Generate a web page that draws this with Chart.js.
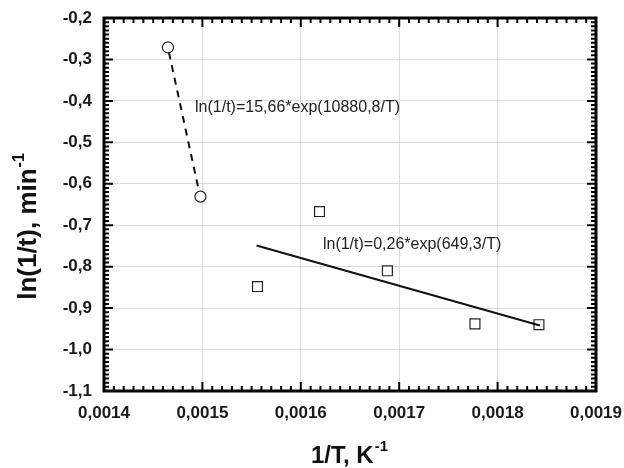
<!DOCTYPE html>
<html>
<head>
<meta charset="utf-8">
<script src="https://cdn.jsdelivr.net/npm/chart.js@4.4.1/dist/chart.umd.min.js"></script>
<style>
  html, body { margin: 0; background: #fff; }
  #wrap { width: 624px; height: 468px; }
</style>
</head>
<body>
<div id="wrap"><canvas id="chart"></canvas></div>
<script>
// measured points (1/T, ln(1/t))
const circleX = [0.001465, 0.001498];
const circleY = [-0.271, -0.631];
const squareX = [0.001556, 0.001619, 0.001688, 0.001777, 0.001842];
const squareY = [-0.848, -0.667, -0.810, -0.938, -0.940];

// fitted lines
const dashFitX = [0.001466, 0.001496];
const dashFitY = [-0.283, -0.612];
const solidFitX = [0.001555, 0.001843];
const solidFitY = [-0.749, -0.942];

// axes
const xMin = 0.0014, xMax = 0.0019, xStep = 0.0001, xMinor = 0.00001;
const yMin = -1.1, yMax = -0.2, yStep = 0.1, yMinor = 0.01;

// equation labels, anchored in data units
const eqTexts = ['ln(1/t)=15,66*exp(10880,8/T)', 'ln(1/t)=0,26*exp(649,3/T)'];
const eqX = [0.0014925, 0.0016225];
const eqY = [-0.416, -0.747];

const toPts = (xs, ys) => xs.map((v, i) => ({ x: v, y: ys[i] }));
const FONT = "'Liberation Sans', Arial, sans-serif";

// inward ticks on all four sides, frame, axis titles
const frame = {
  id: 'frame',
  afterDatasetsDraw(chart) {
    const { ctx, scales: { x, y } } = chart;
    ctx.save();
    ctx.fillStyle = '#222';
    ctx.font = '16px ' + FONT;
    ctx.textBaseline = 'middle';
    ctx.textAlign = 'left';
    eqTexts.forEach((t, i) => {
      ctx.fillText(t, x.getPixelForValue(eqX[i]), y.getPixelForValue(eqY[i]));
    });
    ctx.restore();
  },
  afterDraw(chart) {
    const { ctx, chartArea: a, scales: { x, y } } = chart;
    ctx.save();
    ctx.strokeStyle = '#000';
    ctx.lineWidth = 2;
    ctx.beginPath();
    const nx = Math.round((xMax - xMin) / xMinor);
    for (let i = 0; i <= nx; i++) {
      const px = x.getPixelForValue(xMin + i * xMinor);
      const len = i % 10 === 0 ? 9 : 5;
      ctx.moveTo(px, a.bottom); ctx.lineTo(px, a.bottom - len);
      ctx.moveTo(px, a.top); ctx.lineTo(px, a.top + len);
    }
    const ny = Math.round((yMax - yMin) / yMinor);
    for (let i = 0; i <= ny; i++) {
      const py = y.getPixelForValue(yMin + i * yMinor);
      const len = i % 10 === 0 ? 9 : 5;
      ctx.moveTo(a.left, py); ctx.lineTo(a.left + len, py);
      ctx.moveTo(a.right, py); ctx.lineTo(a.right - len, py);
    }
    ctx.stroke();
    ctx.lineWidth = 3;
    ctx.strokeRect(a.left, a.top, a.right - a.left, a.bottom - a.top);

    // axis titles with superscript
    ctx.fillStyle = '#111';
    ctx.textBaseline = 'alphabetic';
    ctx.textAlign = 'left';
    const title = (main, sup, size, cx, cy, rot) => {
      const big = 'bold ' + size + 'px ' + FONT;
      const small = 'bold ' + Math.round(size * 0.62) + 'px ' + FONT;
      ctx.save();
      ctx.translate(cx, cy);
      ctx.rotate(rot);
      ctx.font = big;
      const w1 = ctx.measureText(main).width;
      ctx.font = small;
      const w2 = ctx.measureText(sup).width;
      const x0 = -(w1 + w2) / 2;
      ctx.font = big;
      ctx.fillText(main, x0, 8);
      ctx.font = small;
      ctx.fillText(sup, x0 + w1 + 1, -4);
      ctx.restore();
    };
    title('1/T, K', '-1', 24, 349, 455, 0);
    title('ln(1/t), min', '-1', 26, 28, 227, -Math.PI / 2);
    ctx.restore();
  }
};

new Chart(document.getElementById('chart'), {
  type: 'scatter',
  data: {
    datasets: [
      {
        data: toPts(dashFitX, dashFitY),
        showLine: true,
        borderColor: '#111',
        borderWidth: 2,
        borderDash: [7, 6],
        pointRadius: 0
      },
      {
        data: toPts(solidFitX, solidFitY),
        showLine: true,
        borderColor: '#111',
        borderWidth: 2,
        pointRadius: 0
      },
      {
        data: toPts(circleX, circleY),
        pointStyle: 'circle',
        pointRadius: 5.5,
        borderColor: '#222',
        borderWidth: 1.2,
        backgroundColor: '#fff'
      },
      {
        data: toPts(squareX, squareY),
        pointStyle: 'rect',
        pointRadius: 7,
        borderColor: '#222',
        borderWidth: 1.2,
        backgroundColor: '#fff'
      }
    ]
  },
  options: {
    responsive: true,
    maintainAspectRatio: false,
    animation: false,
    layout: { padding: { top: 18, right: 28, left: 0, bottom: 0 } },
    plugins: { legend: { display: false }, tooltip: { enabled: false } },
    scales: {
      x: {
        type: 'linear',
        min: xMin,
        max: xMax,
        afterFit: s => { s.height = 77; s.paddingLeft = 0; s.paddingRight = 0; },
        grid: { color: '#dcdcdc', lineWidth: 1, drawTicks: false },
        border: { display: false },
        ticks: {
          stepSize: xStep,
          padding: 12,
          color: '#1a1a1a',
          font: { family: FONT, size: 17, weight: 'bold' },
          callback: v => Number(v).toFixed(4).replace('.', ',')
        }
      },
      y: {
        type: 'linear',
        min: yMin,
        max: yMax,
        afterFit: s => { s.width = 104; s.paddingTop = 0; s.paddingBottom = 0; },
        grid: { color: '#dcdcdc', lineWidth: 1, drawTicks: false },
        border: { display: false },
        ticks: {
          stepSize: yStep,
          padding: 12,
          color: '#1a1a1a',
          font: { family: FONT, size: 17, weight: 'bold' },
          callback: v => Number(v).toFixed(1).replace('.', ',')
        }
      }
    }
  },
  plugins: [frame]
});
</script>
</body>
</html>
